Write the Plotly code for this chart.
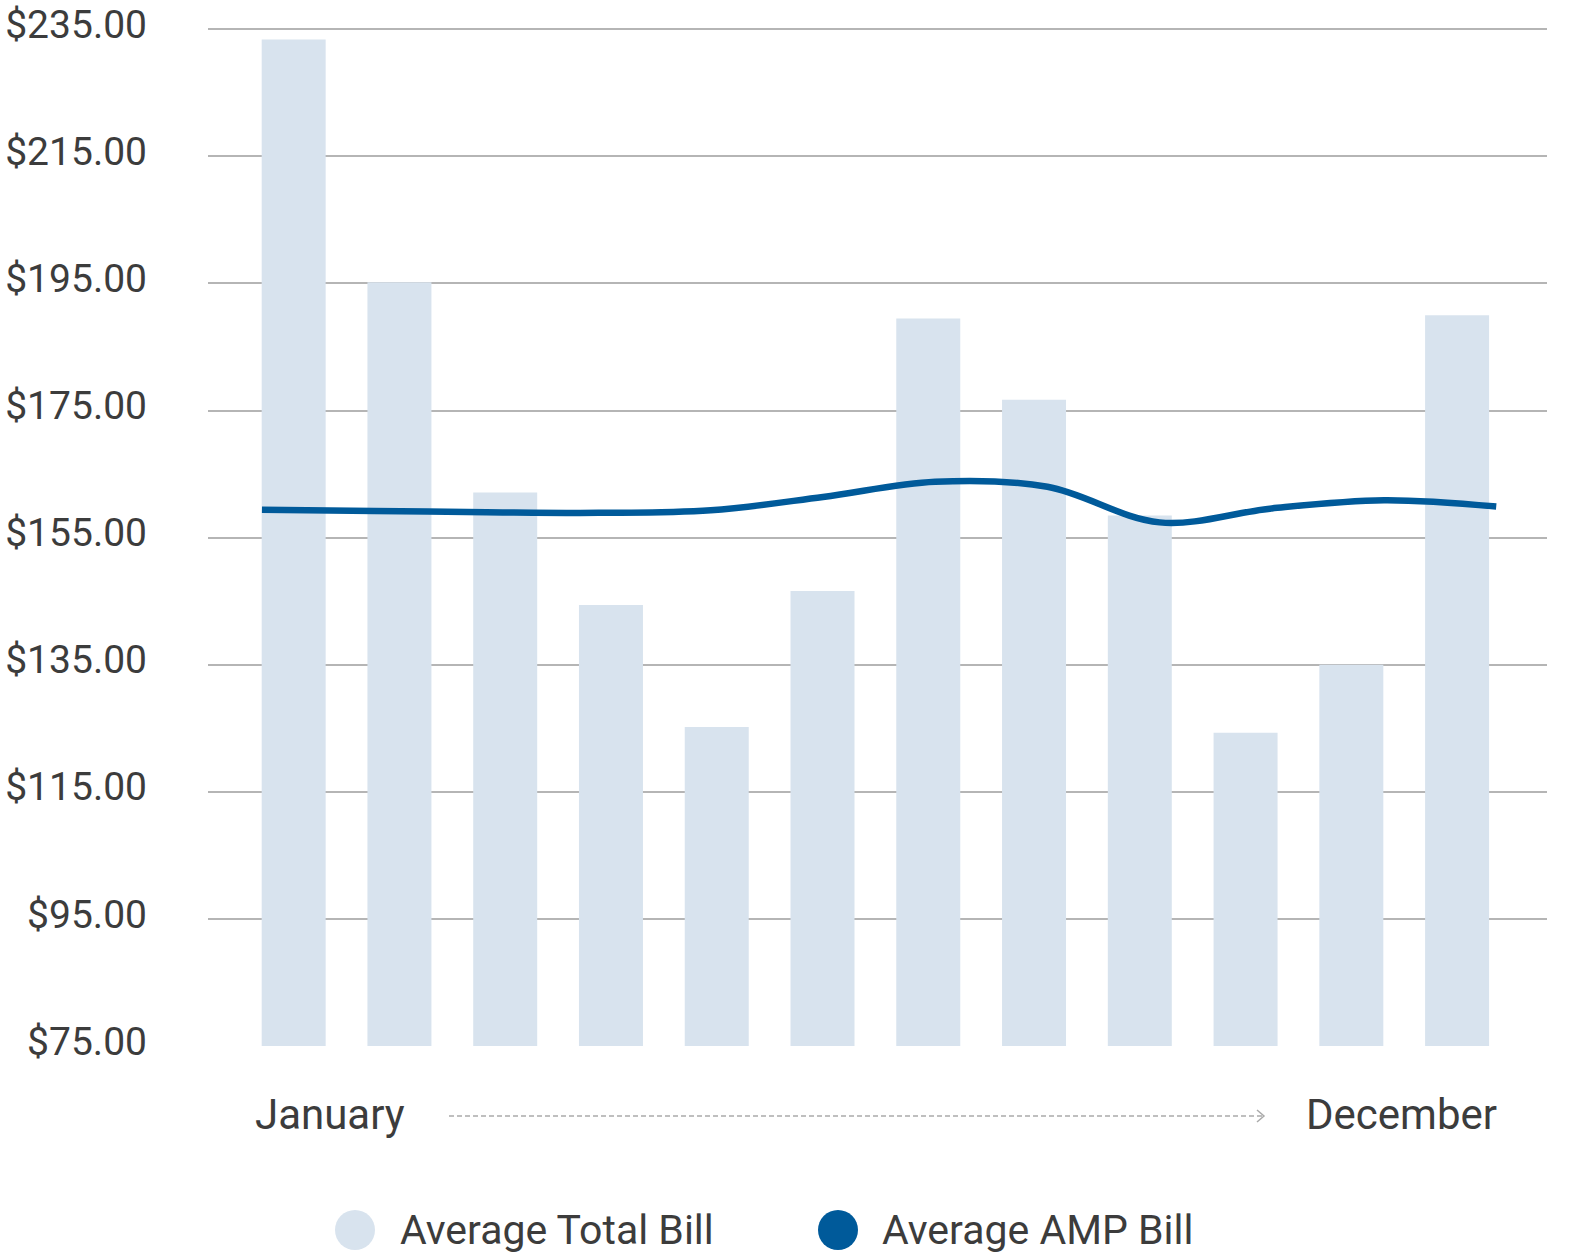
import plotly.graph_objects as go

months = ["January", "February", "March", "April", "May", "June",
          "July", "August", "September", "October", "November", "December"]
total_bill = [233.4, 195.2, 162.1, 144.4, 125.2, 146.6, 189.5, 176.7, 158.5, 124.3, 135.0, 190.0]
amp_bill = [159.4, 159.2, 159.0, 158.9, 159.3, 161.4, 163.8, 163.0, 157.4, 159.6, 160.9, 159.9]
y_ticks = [75, 95, 115, 135, 155, 175, 195, 215, 235]
y_tick_labels = ["$%.2f" % v for v in y_ticks]
legend_labels = ["Average Total Bill", "Average AMP Bill"]

BAR_COLOR = "#d8e3ee"
LINE_COLOR = "#005a9a"
TEXT_COLOR = "#3c3c3c"
FONT = "Roboto"

W, H = 1581, 1257
L, R, T, B = 208, 34, 28, 211
PW, PH = W - L - R, H - T - B

def px(x):
    return (x - L) / PW

def py(y):
    return (H - B - y) / PH

bar_x = list(range(len(months)))
# AMP line points are spread from the left edge of the first bar to the right edge of the last
n = len(amp_bill)
line_start, line_end = -0.30, 11.37
line_x = [line_start + i * (line_end - line_start) / (n - 1) for i in range(n)]

fig = go.Figure()
fig.add_trace(go.Bar(x=bar_x, y=total_bill, width=0.605, marker=dict(color=BAR_COLOR, line=dict(width=0)),
                     name=legend_labels[0], showlegend=False))
fig.add_trace(go.Scatter(x=line_x, y=amp_bill, mode="lines", line=dict(color=LINE_COLOR, width=6.5, shape="spline", smoothing=1.0),
                         name=legend_labels[1], showlegend=False))

shapes = []
annotations = []

# x-axis "January -> December" arrow
ay = 1116
shapes.append(dict(type="line", xref="paper", yref="paper", x0=px(449), x1=px(1262), y0=py(ay), y1=py(ay),
                   line=dict(color="#aaaaaa", width=1.5, dash="5px,3px")))
shapes.append(dict(type="path", xref="paper", yref="paper",
                   path="M %f,%f L %f,%f L %f,%f" % (px(1257), py(ay - 6), px(1264), py(ay), px(1257), py(ay + 6)),
                   line=dict(color="#aaaaaa", width=1.5)))
annotations.append(dict(text=months[0], xref="paper", yref="paper", x=px(330), y=py(1114), showarrow=False,
                        xanchor="center", yanchor="middle", font=dict(family=FONT, size=42, color=TEXT_COLOR)))
annotations.append(dict(text=months[-1], xref="paper", yref="paper", x=px(1401), y=py(1114), showarrow=False,
                        xanchor="center", yanchor="middle", font=dict(family=FONT, size=42, color=TEXT_COLOR)))

# manual legend
legend_items = [(355, 398, BAR_COLOR, legend_labels[0]), (838, 880, LINE_COLOR, legend_labels[1])]
for cx, tx, col, lab in legend_items:
    r = 20
    cy = 1230
    shapes.append(dict(type="circle", xref="paper", yref="paper", x0=px(cx - r), x1=px(cx + r),
                       y0=py(cy + r), y1=py(cy - r), fillcolor=col, line=dict(width=0)))
    annotations.append(dict(text=lab, xref="paper", yref="paper", x=px(tx), y=py(1256), showarrow=False,
                            xanchor="left", yanchor="bottom", font=dict(family=FONT, size=41, color=TEXT_COLOR)))

fig.update_layout(
    width=W, height=H,
    margin=dict(l=L, r=R, t=T, b=B, autoexpand=False),
    paper_bgcolor="white", plot_bgcolor="white",
    showlegend=False,
    shapes=shapes, annotations=annotations,
    xaxis=dict(range=[-0.81, 11.85], showgrid=False, showticklabels=False, zeroline=False, showline=False, ticks="",
               automargin=False),
    yaxis=dict(range=[75, 235.2], tickvals=y_ticks, ticktext=y_tick_labels, showgrid=True, gridcolor="#b5b5b5",
               gridwidth=2, zeroline=False, showline=False, ticks="", ticklabelstandoff=60, ticklabelshift=-5,
               automargin=False, tickfont=dict(family=FONT, size=39, color=TEXT_COLOR)),
    font=dict(family=FONT, color=TEXT_COLOR),
)

fig.write_html("out.html", config={"displayModeBar": False},
               post_script="document.body.style.margin='0px';document.body.style.overflow='hidden';")
